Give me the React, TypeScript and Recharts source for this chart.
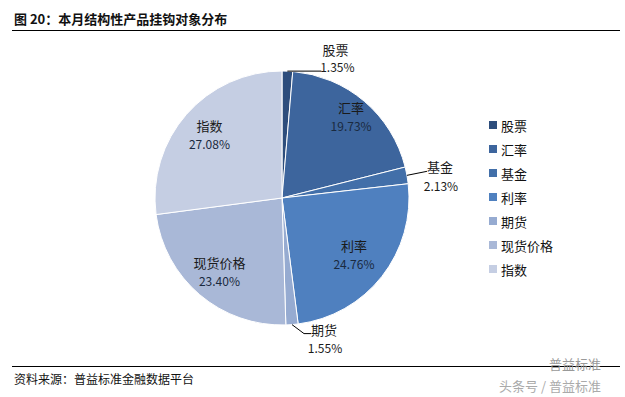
import React from 'react';
import { PieChart, Pie, Cell, Legend } from 'recharts';

const CATEGORIES = ['股票', '汇率', '基金', '利率', '期货', '现货价格', '指数'];
const SHARES = [1.35, 19.73, 2.13, 24.76, 1.55, 23.4, 27.08];
const COLORS = ['#2d4d7c', '#3d659d', '#426fa9', '#4f80bf', '#96abd1', '#a9b8d7', '#c5cee3'];

// how each slice label is placed: inside at a share of the radius, or outside with a leader line
type LabelCfg = {
  inside?: number;
  elbow?: [number, number];
  end?: [number, number];
  nameAt?: [number, number];
  pctAt?: [number, number];
};
const LABEL_STYLE: Record<string, LabelCfg> = {
  股票: { elbow: [34, 0], end: [34, 0], nameAt: [14, -22], pctAt: [16, -5] },
  汇率: { inside: 0.84 },
  基金: { elbow: [20, -4], end: [20, -4], nameAt: [13, -5], pctAt: [14, 14] },
  利率: { inside: 0.72 },
  期货: { elbow: [12, 9], end: [19, 9], nameAt: [13, -4], pctAt: [14, 14] },
  现货价格: { inside: 0.76 },
  指数: { inside: 0.76 },
};

const data = CATEGORIES.map((name, i) => ({ name, value: SHARES[i] }));

const FONT = '"Noto Sans CJK SC", "Microsoft YaHei", sans-serif';
const RAD = Math.PI / 180;

const renderLabel = (props: any) => {
  const { cx, cy, midAngle, outerRadius, name, value } = props;
  const cfg = LABEL_STYLE[name];
  const cos = Math.cos(-midAngle * RAD);
  const sin = Math.sin(-midAngle * RAD);
  const pct = `${value.toFixed(2)}%`;
  if (cfg.inside) {
    const r = outerRadius * cfg.inside;
    const x = cx + r * cos;
    const y = cy + r * sin;
    return (
      <g>
        <text x={x} y={y - 9} textAnchor="middle" dominantBaseline="central" fill="#1a1a1a" fontSize={13} fontFamily={FONT}>
          {name}
        </text>
        <text x={x} y={y + 9} textAnchor="middle" dominantBaseline="central" fill="#1a2a40" fontSize={12} fontFamily={FONT}>
          {pct}
        </text>
      </g>
    );
  }
  const sx = cx + outerRadius * cos;
  const sy = cy + outerRadius * sin;
  const ex = sx + cfg.elbow![0];
  const ey = sy + cfg.elbow![1];
  const tx = sx + cfg.end![0];
  const ty = sy + cfg.end![1];
  return (
    <g>
      <polyline points={`${sx},${sy} ${ex},${ey} ${tx},${ty}`} fill="none" stroke="#000" strokeWidth={1} />
      <text
        x={tx + cfg.nameAt![0]}
        y={ty + cfg.nameAt![1]}
        textAnchor="middle"
        dominantBaseline="central"
        fill="#1a1a1a"
        fontSize={13}
        fontFamily={FONT}
      >
        {name}
      </text>
      <text
        x={tx + cfg.pctAt![0]}
        y={ty + cfg.pctAt![1]}
        textAnchor="middle"
        dominantBaseline="central"
        fill="#1a1a1a"
        fontSize={12}
        fontFamily={FONT}
      >
        {pct}
      </text>
    </g>
  );
};

const renderLegend = () => (
  <div style={{ fontFamily: FONT, fontSize: 13, color: '#111' }}>
    {CATEGORIES.map((c, i) => (
      <div key={c} style={{ display: 'flex', alignItems: 'center', height: 24 }}>
        <span style={{ width: 8, height: 8, background: COLORS[i], marginRight: 4, display: 'inline-block' }} />
        <span>{c}</span>
      </div>
    ))}
  </div>
);

export default function App() {
  return (
    <div style={{ position: 'fixed', left: 0, top: 0, width: 625, height: 397, background: '#fff', fontFamily: FONT }}>
      <div style={{ position: 'absolute', left: 14, top: 9, fontSize: 13, fontWeight: 700, color: '#111' }}>
        图 20：本月结构性产品挂钩对象分布
      </div>
      <div style={{ position: 'absolute', left: 12, top: 30, width: 608, height: 1, background: '#000' }} />
      <div style={{ position: 'absolute', left: 0, top: 0 }}>
        <PieChart width={625} height={397} margin={{ top: 0, right: 0, bottom: 0, left: 0 }}>
          <Pie
            data={data}
            dataKey="value"
            nameKey="name"
            cx={282}
            cy={198}
            outerRadius={127}
            startAngle={90}
            endAngle={-270}
            stroke="#ffffff"
            strokeWidth={1}
            label={renderLabel}
            labelLine={false}
            isAnimationActive={false}
          >
            {data.map((d, i) => (
              <Cell key={d.name} fill={COLORS[i]} />
            ))}
          </Pie>
          <Legend
            layout="horizontal"
            verticalAlign="middle"
            align="right"
            content={renderLegend}
            wrapperStyle={{ left: 489, top: 113, width: 100, right: 'auto', bottom: 'auto' }}
          />
        </PieChart>
      </div>
      <div style={{ position: 'absolute', left: 12, top: 366, width: 608, height: 1, background: '#000' }} />
      <div style={{ position: 'absolute', left: 14, top: 370, fontSize: 12, color: '#111' }}>
        资料来源：普益标准金融数据平台
      </div>
      <div style={{ position: 'absolute', left: 549, top: 356, fontSize: 13, lineHeight: '15px', color: '#999' }}>普益标准</div>
      <div style={{ position: 'absolute', left: 499, top: 378, fontSize: 13, lineHeight: '15px', color: '#aaa' }}>头条号 / 普益标准</div>
    </div>
  );
}
